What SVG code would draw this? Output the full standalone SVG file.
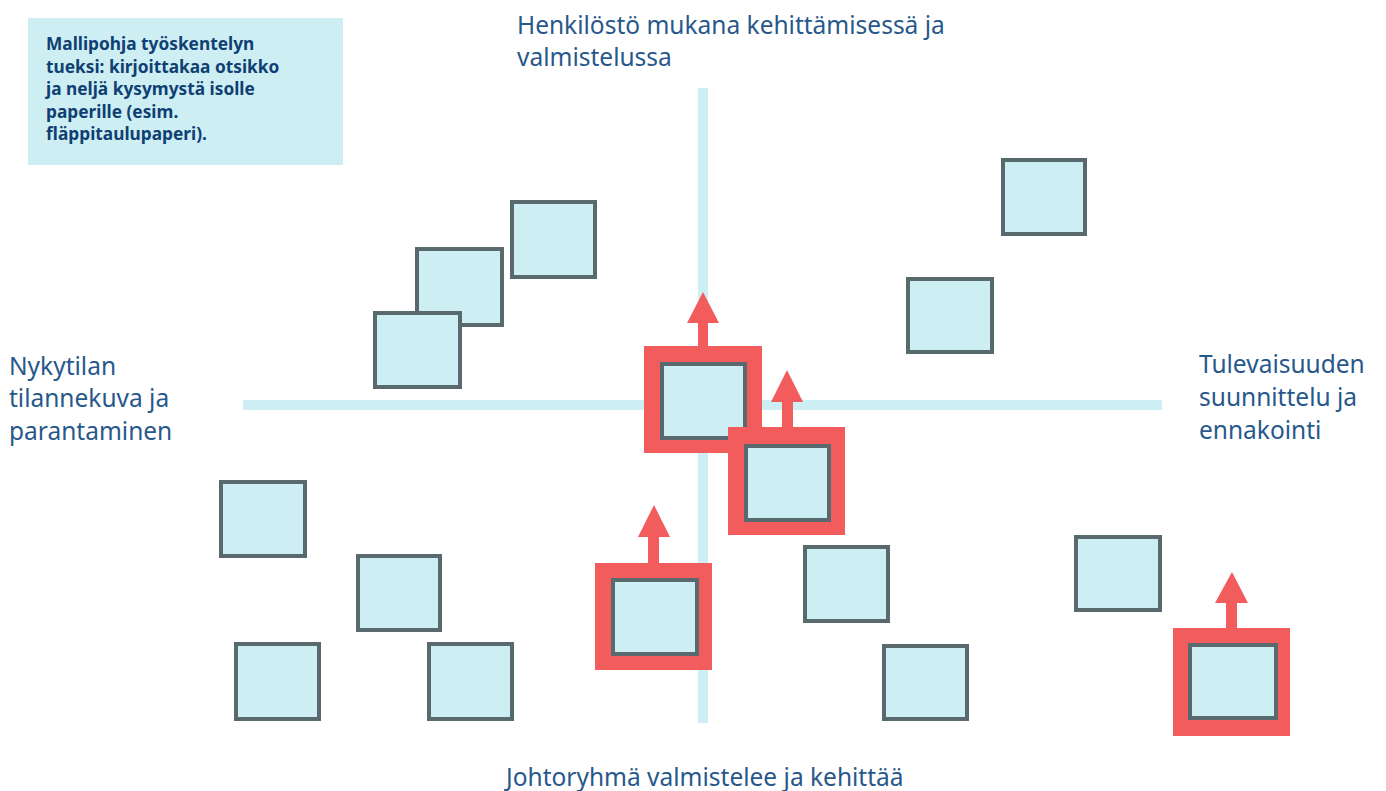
<svg xmlns="http://www.w3.org/2000/svg" width="1386" height="791" viewBox="0 0 1386 791">
<style>
.note{fill:#cdeef2}
.nt{font-family:"Noto Sans","Open Sans",sans-serif;font-weight:bold;font-size:17.3px;fill:#0f3f73}
.lbl{font-family:"Noto Sans","Open Sans",sans-serif;font-size:24.5px;fill:#28588b}
.axis{stroke:#cdeef2;stroke-width:10;fill:none}
.box{fill:#cdeef2;stroke:#586a6e;stroke-width:4}
.frame{fill:#f25c5c}
.arrow{fill:#f25c5c}
</style>
<rect width="1386" height="791" fill="#ffffff"/>
<g id="note">
<rect class="note" x="28" y="18" width="315" height="147"/>
<text class="nt" x="46" y="50">Mallipohja työskentelyn</text>
<text class="nt" x="46" y="72.5">tueksi: kirjoittakaa otsikko</text>
<text class="nt" x="46" y="95">ja neljä kysymystä isolle</text>
<text class="nt" x="46" y="117.5">paperille (esim.</text>
<text class="nt" x="46" y="140">fläppitaulupaperi).</text>
</g>
<g id="axes">
<line class="axis" x1="703" y1="88" x2="703" y2="723"/>
<line class="axis" x1="243" y1="405" x2="1162" y2="405"/>
</g>
<g id="labels">
<text class="lbl" x="517" y="34">Henkilöstö mukana kehittämisessä ja</text>
<text class="lbl" x="517" y="66">valmistelussa</text>
<text class="lbl" x="9" y="374.5">Nykytilan</text>
<text class="lbl" x="9" y="407">tilannekuva ja</text>
<text class="lbl" x="9" y="440">parantaminen</text>
<text class="lbl" x="1199" y="372.5">Tulevaisuuden</text>
<text class="lbl" x="1199" y="406">suunnittelu ja</text>
<text class="lbl" x="1199" y="439">ennakointi</text>
<text class="lbl" x="506" y="786">Johtoryhmä valmistelee ja kehittää</text>
</g>
<g id="notes-plain">
<rect id="n1" class="box" x="512" y="202" width="83" height="75"/>
<rect id="n2" class="box" x="417" y="249" width="85" height="76"/>
<rect id="n3" class="box" x="375" y="313" width="85" height="74"/>
<rect id="n4" class="box" x="1003" y="160" width="82" height="74"/>
<rect id="n5" class="box" x="908" y="279" width="84" height="73"/>
<rect id="n6" class="box" x="221" y="482" width="84" height="74"/>
<rect id="n7" class="box" x="358" y="556" width="82" height="74"/>
<rect id="n8" class="box" x="236" y="644" width="83" height="75"/>
<rect id="n9" class="box" x="429" y="644" width="83" height="75"/>
<rect id="n10" class="box" x="805" y="547" width="83" height="74"/>
<rect id="n11" class="box" x="1076" y="537" width="84" height="73"/>
<rect id="n12" class="box" x="884" y="646" width="83" height="73"/>
</g>
<g id="highlight1">
<rect class="frame" x="644" y="346" width="118" height="107"/>
<rect class="box" x="662" y="364" width="83" height="74"/>
</g>
<g id="highlight2">
<rect class="frame" x="728" y="427" width="117" height="108"/>
<rect class="box" x="746" y="446" width="83" height="74"/>
</g>
<g id="highlight3">
<rect class="frame" x="595" y="563" width="117" height="107"/>
<rect class="box" x="613" y="580" width="84" height="74"/>
</g>
<g id="highlight4">
<rect class="frame" x="1173" y="628" width="117" height="108"/>
<rect class="box" x="1190" y="645" width="86" height="73"/>
</g>
<g id="connectors">
<polygon class="arrow" points="698,346 698,323 687,323 703,292 719,323 708,323 708,346"/>
<polygon class="arrow" points="782,427 782,402 771,402 787,370 803,402 793,402 793,427"/>
<polygon class="arrow" points="648,563 648,537 638,537 654,505 670,537 659,537 659,563"/>
<polygon class="arrow" points="1226,628 1226,603 1215,603 1232,572 1248,603 1237,603 1237,628"/>
</g>
</svg>
